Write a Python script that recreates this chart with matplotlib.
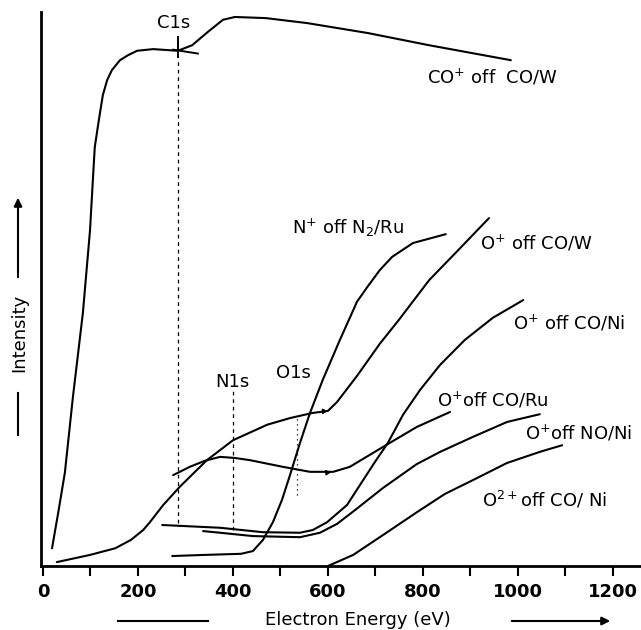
import matplotlib
matplotlib.use("Agg")
import matplotlib.pyplot as plt
from matplotlib.lines import Line2D

# Energies in eV, intensities in arbitrary units (0 = baseline, 100 = top of the axis)
co_w_energy = [19, 32, 46, 63, 84, 99, 105, 109, 116, 120, 126, 135, 145, 162, 179, 198,
               232, 284, 314, 347, 379, 404, 469, 556, 684, 813, 985]
co_w_int = [3.2, 9.6, 16.8, 30.5, 45.7, 60.6, 69.7, 75.6, 79.6, 81.8, 85.0, 87.7, 89.5,
            91.3, 92.2, 93.0, 93.3, 93.0, 94.0, 96.4, 98.6, 99.1, 98.9, 98.0, 96.2, 94.0,
            91.3]

n2_ru_energy = [272, 340, 417, 442, 463, 484, 503, 520, 541, 562, 589, 625, 646, 661,
                684, 709, 735, 779, 848]
n2_ru_int = [1.8, 2.0, 2.2, 2.7, 4.7, 7.9, 11.9, 16.4, 22.2, 27.6, 33.6, 40.8, 44.8,
             47.7, 50.5, 53.4, 55.8, 58.3, 59.9]

o_cow_energy = [29, 99, 152, 185, 211, 225, 253, 288, 345, 400, 472, 520, 566, 600,
                619, 661, 709, 749, 781, 813, 874, 939]
o_cow_int = [0.7, 2.0, 3.2, 4.7, 6.5, 7.9, 11.0, 14.3, 19.1, 22.7, 25.5, 26.7, 27.6,
             28.0, 29.6, 34.3, 40.1, 44.4, 48.0, 51.6, 57.0, 62.8]

o_coru_energy = [274, 309, 341, 373, 404, 436, 505, 562, 611, 646, 716, 787, 857]
o_coru_int = [16.4, 17.9, 19.0, 19.7, 19.5, 19.1, 17.9, 17.0, 17.0, 17.9, 21.5, 25.1, 27.8]

o_coni_energy = [251, 373, 463, 541, 568, 598, 640, 674, 699, 726, 758, 794, 836, 888,
                 947, 1011]
o_coni_int = [7.4, 6.9, 6.1, 6.0, 6.5, 7.9, 11.0, 15.5, 18.8, 22.2, 27.3, 31.8, 36.3,
              40.8, 44.8, 48.0]

o_noni_energy = [337, 373, 442, 541, 583, 619, 657, 716, 787, 836, 905, 977, 1046]
o_noni_int = [6.3, 6.0, 5.4, 5.2, 6.0, 7.6, 10.1, 14.1, 18.4, 20.6, 23.3, 26.0, 27.4]

o2_coni_energy = [600, 653, 716, 787, 846, 905, 977, 1046, 1093]
o2_coni_int = [0.0, 2.0, 5.6, 9.7, 13.0, 15.5, 18.6, 20.6, 21.8]

# core level edges: energy, top and bottom of the marker line
edge_names = ["C1s", "N1s", "O1s"]
edge_energy = [284, 400, 535]
edge_top = [91.5, 31.8, 26.9]
edge_bottom = [7.8, 6.5, 12.8]

xticks = list(range(0, 1201, 100))
xtick_labels = [str(t) if t % 200 == 0 else "" for t in xticks]

fig = plt.figure(figsize=(6.41, 6.30), dpi=100)
ax = fig.add_axes([41 / 641, 64 / 630, 600 / 641, 554 / 630])
ax.set_xlim(-4.2, 1259)
ax.set_ylim(0, 100)

for s in ["top", "right"]:
    ax.spines[s].set_visible(False)
for s in ["left", "bottom"]:
    ax.spines[s].set_linewidth(2.0)

ax.set_xticks(xticks)
ax.set_xticklabels(xtick_labels, fontweight="bold")
ax.tick_params(axis="x", direction="out", length=7, width=1.5, pad=5, labelsize=13)
ax.set_yticks([])

curves = [(co_w_energy, co_w_int), (n2_ru_energy, n2_ru_int), (o_cow_energy, o_cow_int),
          (o_coru_energy, o_coru_int), (o_coni_energy, o_coni_int),
          (o_noni_energy, o_noni_int), (o2_coni_energy, o2_coni_int)]
for e, i in curves:
    ax.plot(e, i, color="black", lw=1.5, solid_joinstyle="round", solid_capstyle="round")

# edge markers
for name, e, top, bot in zip(edge_names, edge_energy, edge_top, edge_bottom):
    ls = (0, (1, 3)) if name == "O1s" else (0, (3, 3))
    ax.plot([e, e], [bot, top], color="black", lw=0.9, linestyle=ls)

# cross at the C1s threshold
ax.plot([edge_energy[0], edge_energy[0]], [91.8, 95.5], color="black", lw=1.4)
ax.plot([274, 326], [93.2, 92.5], color="black", lw=1.4)

# small arrow heads drawn on two curves
ax.annotate("", xy=(606, 28.0), xytext=(585, 27.9),
            arrowprops=dict(arrowstyle="-|>", color="black", lw=0.8, mutation_scale=8))
ax.annotate("", xy=(613, 17.0), xytext=(592, 16.8),
            arrowprops=dict(arrowstyle="-|>", color="black", lw=0.8, mutation_scale=8))

fs = 13
ax.text(276, 98.0, "C1s", fontsize=fs, ha="center", va="center")
ax.text(398, 33.2, "N1s", fontsize=fs, ha="center", va="center")
ax.text(528, 34.8, "O1s", fontsize=fs, ha="center", va="center")

ax.text(808, 88.3, "CO$^{+}$ off  CO/W", fontsize=fs, ha="left", va="center")
ax.text(524, 61.0, "N$^{+}$ off N$_{2}$/Ru", fontsize=fs, ha="left", va="center")
ax.text(920, 58.3, "O$^{+}$ off CO/W", fontsize=fs, ha="left", va="center")
ax.text(989, 43.9, "O$^{+}$ off CO/Ni", fontsize=fs, ha="left", va="center")
ax.text(829, 30.0, "O$^{+}$off CO/Ru", fontsize=fs, ha="left", va="center")
ax.text(1015, 24.0, "O$^{+}$off NO/Ni", fontsize=fs, ha="left", va="center")
ax.text(924, 11.9, "O$^{2+}$off CO/ Ni", fontsize=fs, ha="left", va="center")

# axis titles with their arrows
fig.text(358 / 641, 1 - 620 / 630, "Electron Energy (eV)", fontsize=13,
         ha="center", va="center")
fig.add_artist(Line2D([118 / 641, 208 / 641], [1 - 621 / 630] * 2, color="black", lw=1.5))
ax.annotate("", xy=(613 / 641, 1 - 621 / 630), xytext=(509 / 641, 1 - 621 / 630),
            xycoords="figure fraction", textcoords="figure fraction",
            arrowprops=dict(arrowstyle="-|>", color="black", lw=1.5, mutation_scale=12))

fig.text(19 / 641, 1 - 333 / 630, "Intensity", fontsize=13, rotation=90,
         ha="center", va="center")
fig.add_artist(Line2D([18 / 641] * 2, [1 - 393 / 630, 1 - 435 / 630], color="black", lw=1.5))
ax.annotate("", xy=(18 / 641, 1 - 195 / 630), xytext=(18 / 641, 1 - 280 / 630),
            xycoords="figure fraction", textcoords="figure fraction",
            arrowprops=dict(arrowstyle="-|>", color="black", lw=1.5, mutation_scale=12))

fig.savefig("out.png", dpi=100)
